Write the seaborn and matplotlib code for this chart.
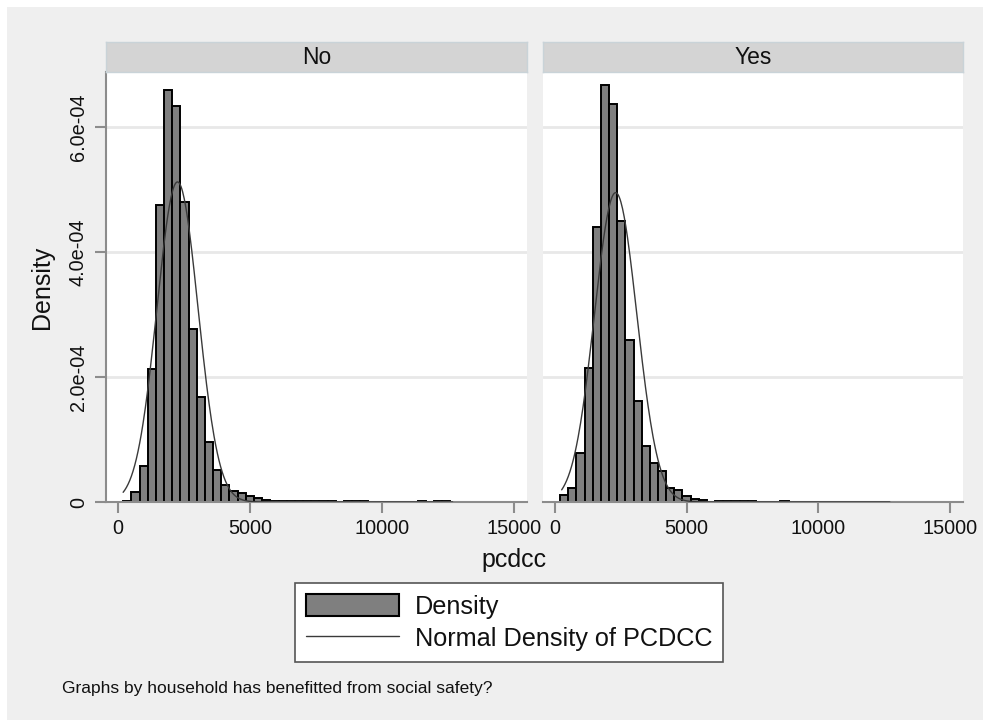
import numpy as np
import pandas as pd
import matplotlib
matplotlib.use('Agg')
import matplotlib.pyplot as plt
from matplotlib.patches import Patch, Rectangle
from matplotlib.lines import Line2D
from matplotlib.ticker import FuncFormatter
import seaborn as sns

# Data
panels = ['No', 'Yes']
bin_start = 190
bin_width = 310
n_bins = 41

# bar heights, in units of 1e-4
dens_no = [0.01, 0.16, 0.58, 2.13, 4.75, 6.60, 6.33, 4.80, 2.77, 1.68,
           0.96, 0.52, 0.28, 0.18, 0.14, 0.10, 0.06, 0.03, 0.02, 0.015,
           0.015, 0.015, 0.015, 0.015, 0.015, 0.015, 0.0, 0.015, 0.015, 0.015,
           0.0, 0.0, 0.0, 0.0, 0.0, 0.0, 0.015, 0.0, 0.015, 0.015,
           0.0]
dens_yes = [0.107, 0.23, 0.78, 2.15, 4.40, 6.68, 6.36, 4.50, 2.59, 1.62,
            0.90, 0.63, 0.50, 0.23, 0.19, 0.10, 0.05, 0.03, 0.0, 0.015,
            0.015, 0.015, 0.015, 0.015, 0.0, 0.0, 0.0, 0.015, 0.0, 0.0,
            0.0, 0.0, 0.0, 0.0, 0.0, 0.0, 0.0, 0.0, 0.0, 0.0,
            0.0]

# normal density overlay: mean, sd, data range
norm_mean = [2250, 2300]
norm_sd = [779, 806]
data_min = [190, 250]
data_max = [12680, 12720]

xticks = [0, 5000, 10000, 15000]
yticks = [0, 2e-4, 4e-4, 6e-4]

centers = bin_start + bin_width * (np.arange(n_bins) + 0.5)

sns.set_theme(style='white')
plt.rcParams['font.family'] = ['Liberation Sans', 'DejaVu Sans']

fig = plt.figure(figsize=(9.85, 7.2), dpi=100)
fig.patch.set_facecolor('white')
fig.add_artist(Rectangle((7 / 985, 0), 976 / 985, 713 / 720, transform=fig.transFigure,
                         facecolor='#EFEFEF', edgecolor='none', zorder=-10))

W, H = 985, 720
lefts = [106, 543]
widths = [421, 420]
bar_color = '#7F7F7F'
axis_color = '#8C8C8C'

for i, name in enumerate(panels):
    ax = fig.add_axes([lefts[i] / W, 1 - 502 / H, widths[i] / W, 430 / H])
    ax.set_facecolor('white')
    dens = np.array([dens_no, dens_yes][i]) * 1e-4
    df = pd.DataFrame({'x': centers, 'w': dens})
    sns.histplot(data=df, x='x', weights='w', binwidth=bin_width,
                 binrange=(bin_start, bin_start + bin_width * n_bins), stat='count', ax=ax,
                 color=bar_color, edgecolor='black', linewidth=1.4, alpha=1)
    for p in ax.patches:
        if p.get_height() <= 0:
            p.set_visible(False)

    xs = np.linspace(data_min[i], data_max[i], 400)
    ys = np.exp(-0.5 * ((xs - norm_mean[i]) / norm_sd[i]) ** 2) / (norm_sd[i] * np.sqrt(2 * np.pi))
    sns.lineplot(x=xs, y=ys, ax=ax, color='#3A3A3A', linewidth=1.0, zorder=5)

    ax.set_xlim(-460, 15500)
    ax.set_ylim(0, 6.88e-4)
    ax.set_xticks(xticks)
    ax.set_yticks(yticks)
    ax.grid(False)
    for yv in yticks[1:]:
        ax.axhline(yv, color='#E8E8E8', linewidth=2, zorder=0)
    ax.set_xlabel('')
    ax.set_ylabel('')
    for s in ['top', 'right']:
        ax.spines[s].set_visible(False)
    ax.spines['bottom'].set_color(axis_color)
    ax.spines['bottom'].set_linewidth(1.5)
    ax.tick_params(axis='x', length=8, width=1.5, color=axis_color, labelsize=14.3,
                   pad=4, bottom=True, labelcolor='#111111')
    if i == 0:
        ax.spines['left'].set_color(axis_color)
        ax.spines['left'].set_linewidth(1.5)
        ax.yaxis.set_major_formatter(FuncFormatter(lambda v, p: '0' if v == 0 else f'{v:.1e}'))
        ax.tick_params(axis='y', length=8, width=1.5, color=axis_color, labelsize=14.3,
                       pad=5, left=True, labelcolor='#111111')
        for lab in ax.get_yticklabels():
            lab.set_rotation(90)
            lab.set_va('center')
    else:
        ax.spines['left'].set_visible(False)
        ax.tick_params(axis='y', left=False, labelleft=False)

    # panel header
    hx = fig.add_axes([lefts[i] / W, 1 - 72 / H, widths[i] / W, 30 / H])
    hx.set_facecolor('#D4D4D4')
    hx.set_xticks([])
    hx.set_yticks([])
    for s in hx.spines.values():
        s.set_color('#C9D3D8')
        s.set_linewidth(1)
    hx.text(0.5, 0.5, name, ha='center', va='center', fontsize=16.5, color='#111111',
            transform=hx.transAxes)

fig.text(42 / W, 1 - 287 / H, 'Density', rotation=90, ha='center', va='center',
         fontsize=18, color='#111111')
fig.text(514 / W, 1 - 560 / H, 'pcdcc', ha='center', va='center', fontsize=18,
         color='#111111')

handles = [Patch(facecolor=bar_color, edgecolor='black', linewidth=1.5),
           Line2D([0], [0], color='#3A3A3A', linewidth=1.0)]
leg = fig.legend(handles, ['Density', 'Normal Density of PCDCC'], loc='upper left',
                 bbox_to_anchor=(295 / W, 1 - 583 / H), fontsize=18.2, frameon=True,
                 fancybox=False, framealpha=1, edgecolor='#555555', handlelength=3.7,
                 handleheight=1.0, labelspacing=0.3, borderpad=0.42, handletextpad=0.63,
                 borderaxespad=0)
leg.get_frame().set_linewidth(1.2)
for t in leg.get_texts():
    t.set_color('#111111')

fig.text(62 / W, 1 - 688 / H, 'Graphs by household has benefitted from social safety?',
         ha='left', va='center', fontsize=12.5, color='#111111')

fig.savefig('out.png', dpi=100, facecolor=fig.get_facecolor())
